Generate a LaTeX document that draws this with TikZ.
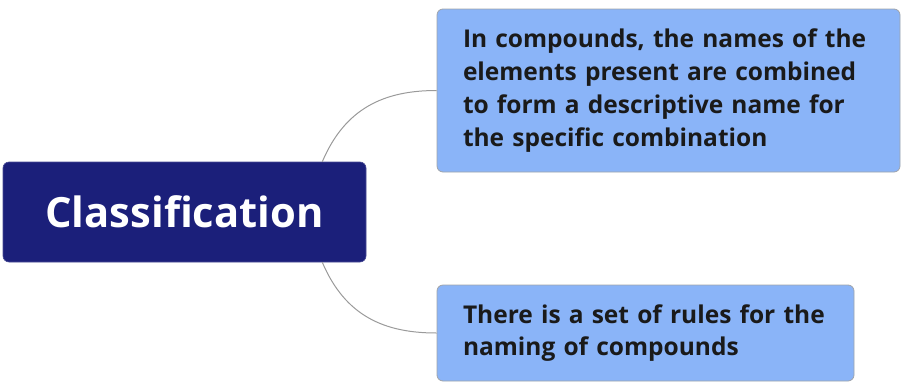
\documentclass[tikz,border=0pt]{standalone}
\usepackage{fontspec}
\setmainfont{Open Sans}
\usetikzlibrary{calc}
\definecolor{rootnavy}{HTML}{1B1F7A}
\definecolor{leafblue}{HTML}{8AB4F8}
\definecolor{leafedge}{HTML}{A0A4AA}
\definecolor{linkgray}{HTML}{9A9A9A}
\definecolor{leaftext}{HTML}{1A1A1A}
\begin{document}
\begin{tikzpicture}[x=1pt,y=-1pt,
  rootbox/.style={fill=rootnavy,draw=rootnavy!80!white,line width=0.6pt,rounded corners=6pt,
    minimum width=363pt,minimum height=100pt,inner sep=0pt,text=white,
    font=\fontsize{41.7}{48}\selectfont\bfseries},
  leafbox/.style={fill=leafblue,draw=leafedge,line width=0.8pt,rounded corners=6pt,
    inner xsep=26pt,inner ysep=0pt,align=left,text=leaftext,
    font=\fontsize{24.5}{32.8}\selectfont\bfseries},
  link/.style={draw=linkgray,line width=1pt}]
\useasboundingbox (0,0) rectangle (901,383);
\node[rootbox] (root) at (184.5,212) {Classification};
\node[leafbox,text width=411pt,minimum height=163pt] (top) at (668.5,90.5)
  {In compounds, the names of the\\elements present are combined\\to form a descriptive name for\\the specific combination};
\node[leafbox,text width=365pt,minimum height=96pt] (bot) at (645.5,333)
  {There is a set of rules for the\\naming of compounds};
\coordinate (rt) at ($(root.north east)+(-44,0)$);
\coordinate (rb) at ($(root.south east)+(-44,0)$);
\draw[link] (rt) .. controls ($(rt)+(23,-54)$) and ($(top.west)+(-52,0)$) .. (top.west);
\draw[link] (rb) .. controls ($(rb)+(23,54)$) and ($(bot.west)+(-52,0)$) .. (bot.west);
\end{tikzpicture}
\end{document}
